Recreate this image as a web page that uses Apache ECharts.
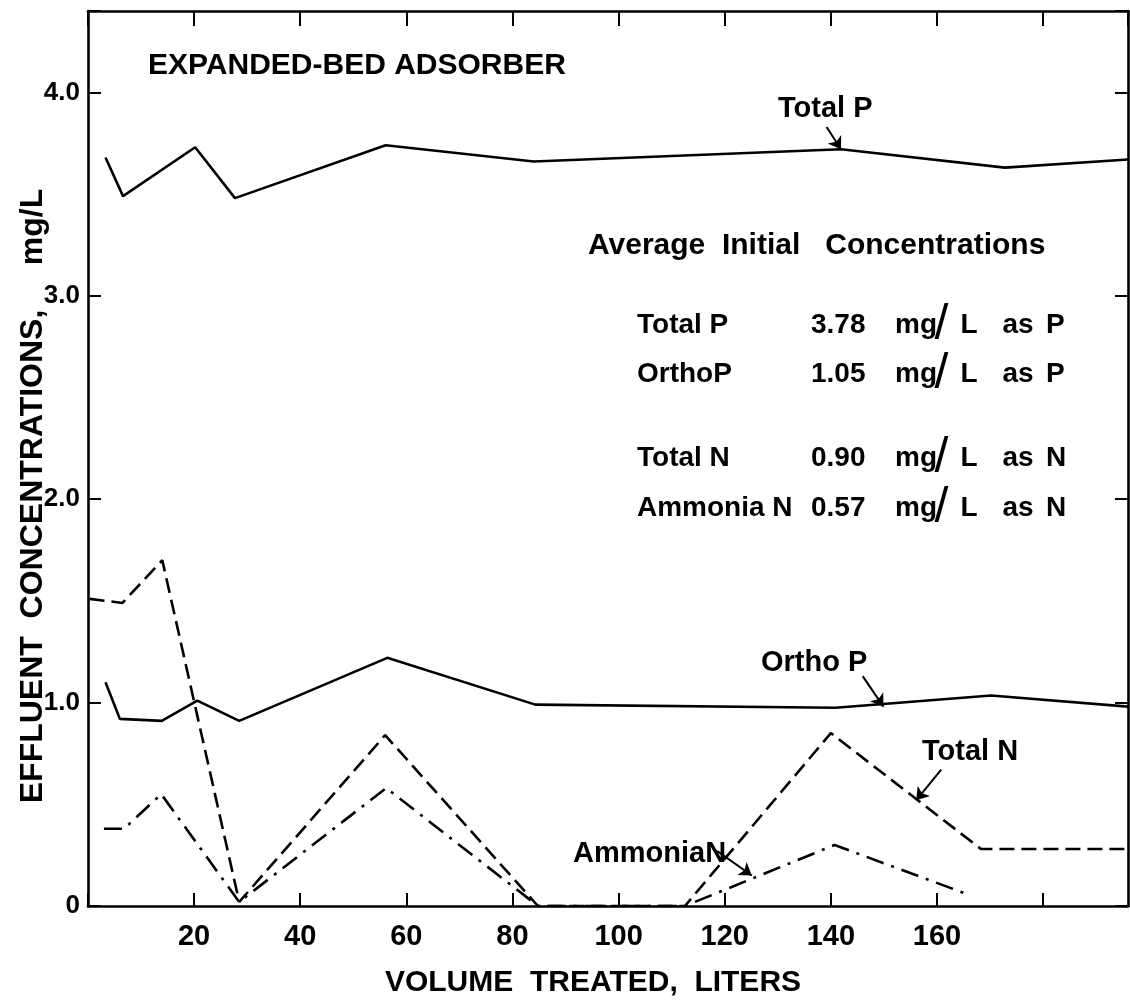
<!DOCTYPE html>
<html>
<head>
<meta charset="utf-8">
<title>Expanded-bed adsorber</title>
<script src="https://cdn.jsdelivr.net/npm/echarts@6/dist/echarts.min.js"></script>
<style>
  html, body { margin: 0; padding: 0; background: #fff; }
  #chart { width: 1130px; height: 1004px; }
</style>
</head>
<body>
<div id="chart"></div>
<script>
// values: x = volume treated (liters), y = mg/L
const totalPX = [3.3, 6.6, 20.2, 27.7, 56.1, 84, 141.9, 172.8, 196]
const totalPY = [3.68, 3.49, 3.73, 3.48, 3.74, 3.66, 3.72, 3.63, 3.67]

const orthoPX = [3.3, 6.0, 13.9, 20.6, 28.5, 56.4, 84.3, 140.9, 170.2, 196]
const orthoPY = [1.10, 0.92, 0.91, 1.01, 0.91, 1.22, 0.99, 0.975, 1.035, 0.98]

const totalNX = [0.3, 6.5, 14.0, 28.5, 56.0, 84.8, 112.5, 140.0, 168.3, 196]
const totalNY = [1.51, 1.49, 1.70, 0.02, 0.84, 0, 0, 0.85, 0.28, 0.28]

const ammoniaNX = [3.0, 6.8, 13.8, 28.5, 56.2, 84.8, 112.5, 140.7, 165.5]
const ammoniaNY = [0.38, 0.38, 0.55, 0.02, 0.58, 0, 0, 0.30, 0.06]

// leader arrows from the labels to the curves, in data units
const arrowTotalP = [[139.2, 3.83], [141.9, 3.72]]
const arrowOrthoP = [[146.0, 1.13], [149.9, 0.98]]
const arrowTotalN = [[160.8, 0.67], [156.1, 0.52]]
const arrowAmmoniaN = [[118.6, 0.27], [125.1, 0.15]]

// initial concentrations box
const initLabels = ['Total P', 'OrthoP', 'Total N', 'Ammonia N']
const initValues = ['3.78', '1.05', '0.90', '0.57']
const initUnits = ['P', 'P', 'N', 'N']

const FONT = '"Liberation Sans", Arial, sans-serif'
const ink = '#000'

const zip = (xs, ys) => xs.map((x, i) => [x, ys[i]])

const arrow = (a) => ({
  silent: true,
  symbol: ['none', 'arrow'],
  symbolSize: 12,
  label: { show: false },
  lineStyle: { color: ink, width: 2, type: 'solid' },
  data: [[{ coord: a[0] }, { coord: a[1] }]]
})

const lineSeries = (name, data, type, arr) => ({
  name: name,
  type: 'line',
  data: data,
  symbol: 'none',
  silent: true,
  animation: false,
  lineStyle: { color: ink, width: 2.6, type: type },
  markLine: arrow(arr)
})

const txt = (text, x, y, size, extra) => Object.assign({
  type: 'text',
  x: x,
  y: y,
  silent: true,
  style: {
    text: text,
    fill: ink,
    fontFamily: FONT,
    fontWeight: 'bold',
    fontSize: size,
    align: 'left',
    verticalAlign: 'middle'
  }
}, extra || {})

// rows of the initial concentrations table
const rowY = [325, 374, 458, 508]
const tableGraphics = []
const tok = (w, size, weight) => ({ width: w, fontSize: size, fontWeight: weight, fontFamily: FONT, verticalAlign: 'middle' })
initLabels.forEach((lab, i) => {
  tableGraphics.push(txt(lab, 637, rowY[i], 28))
  const el = txt('{n|' + initValues[i] + '}{m|mg}{s|/}{l|L}{a|as}{u|' + initUnits[i] + '}', 811, rowY[i], 28)
  el.style.rich = {
    n: tok(84, 28, 'bold'),
    m: tok(40, 28, 'bold'),
    s: Object.assign(tok(13, 50, 'normal'), { align: 'center' }),
    l: tok(42, 28, 'bold'),
    a: tok(56, 28, 'bold'),
    u: tok(undefined, 28, 'bold')
  }
  tableGraphics.push(el)
})

const chart = echarts.init(document.getElementById('chart'), null, { renderer: 'canvas' })

const axisLine = { show: true, onZero: false, lineStyle: { color: ink, width: 2.6 } }
const tick = (len) => ({ show: true, inside: true, length: len, lineStyle: { color: ink, width: 2 } })

const option = {
  animation: false,
  backgroundColor: '#fff',
  grid: { left: 88, right: 2, top: 11, bottom: 98, containLabel: false },
  xAxis: [
    {
      type: 'value',
      position: 'bottom',
      min: 0,
      max: 196,
      interval: 20,
      axisLine: axisLine,
      axisTick: tick(13),
      axisLabel: {
        margin: 16,
        color: ink,
        fontFamily: FONT,
        fontWeight: 'bold',
        fontSize: 29,
        showMaxLabel: false,
        formatter: v => (v > 0 && v <= 160) ? String(v) : ''
      },
      splitLine: { show: false }
    },
    {
      type: 'value',
      position: 'top',
      min: 0,
      max: 196,
      interval: 20,
      axisLine: axisLine,
      axisTick: tick(15),
      axisLabel: { show: false },
      splitLine: { show: false }
    }
  ],
  yAxis: [
    {
      type: 'value',
      position: 'left',
      min: 0,
      max: 4.4,
      interval: 1,
      axisLine: axisLine,
      axisTick: tick(13),
      axisLabel: {
        margin: 8,
        color: ink,
        fontFamily: FONT,
        fontWeight: 'bold',
        fontSize: 26,
        formatter: v => v === 0 ? '0' : (v > 4.2 ? '' : v.toFixed(1))
      },
      splitLine: { show: false }
    },
    {
      type: 'value',
      position: 'right',
      min: 0,
      max: 4.4,
      interval: 1,
      axisLine: axisLine,
      axisTick: tick(13),
      axisLabel: { show: false },
      splitLine: { show: false }
    }
  ],
  series: [
    lineSeries('Total P', zip(totalPX, totalPY), 'solid', arrowTotalP),
    lineSeries('Ortho P', zip(orthoPX, orthoPY), 'solid', arrowOrthoP),
    lineSeries('Total N', zip(totalNX, totalNY), [15, 7], arrowTotalN),
    lineSeries('Ammonia N', zip(ammoniaNX, ammoniaNY), [18, 8, 3, 8], arrowAmmoniaN)
  ],
  graphic: [
    txt('EXPANDED-BED ADSORBER', 148, 66, 30),
    txt('Total P', 778, 109, 29),
    txt('Average  Initial   Concentrations', 588, 246, 30),
    txt('Ortho P', 761, 663, 29),
    txt('Total N', 922, 752, 29),
    txt('AmmoniaN', 573, 854, 29),
    txt('VOLUME  TREATED,  LITERS', 593, 983, 30),
    txt('EFFLUENT  CONCENTRATIONS,     mg/L', 33, 496, 32, { rotation: Math.PI / 2 })
  ].concat(tableGraphics)
}

// centre the two axis titles
option.graphic[6].style.align = 'center'
option.graphic[7].style.align = 'center'

chart.setOption(option)
</script>
</body>
</html>
